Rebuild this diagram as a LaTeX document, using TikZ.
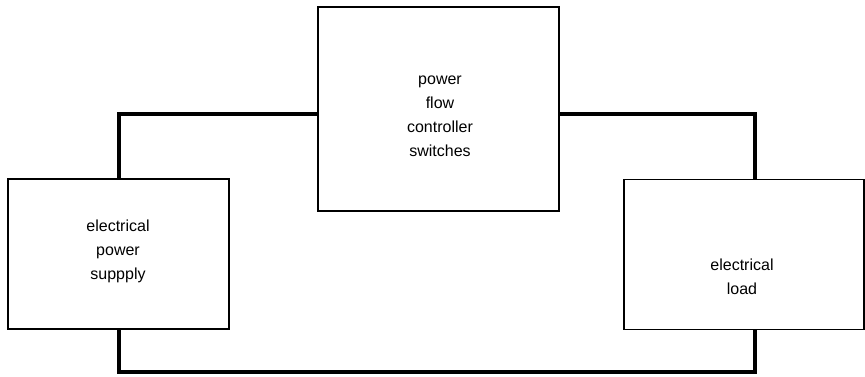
\documentclass[tikz,border=0pt]{standalone}
\usepackage{fontspec}
\setmainfont{Liberation Sans}
\begin{document}
\begin{tikzpicture}[x=1pt,y=-1pt,
  box/.style={draw=black, line width=1.3pt, fill=white, rectangle, inner sep=0pt},
  conn/.style={draw=black, line width=4.5pt, line join=miter},
  lbl/.style={align=center, font=\fontsize{16}{24}\selectfont, inner sep=0pt}]
\useasboundingbox (0,0) rectangle (865,376);
% coordinates of connector corners
\coordinate (a) at (119,114);
\coordinate (b) at (755,114);
\coordinate (c) at (119,372);
\coordinate (d) at (755,372);
% boxes (positions only)
\path (8,179) coordinate (psunw) (229,329) coordinate (psuse);
\node[box, minimum width=221pt, minimum height=150pt] (psu) at (118.5,254) {};
\node[box, minimum width=241pt, minimum height=204pt] (ctrl) at (438.5,109) {};
\node[box, minimum width=240pt, minimum height=150pt] (load) at (744,254.5) {};
% connectors
\draw[conn] (a |- psu.north) -- (a) -- (ctrl.west |- a);
\draw[conn] (ctrl.east |- b) -- (b) -- (b |- load.north);
\draw[conn] (c |- psu.south) -- (c) -- (d) -- (d |- load.south);
% redraw boxes on top
\node[box, minimum width=221pt, minimum height=150pt, fill=none] at (psu) {};
\node[box, minimum width=241pt, minimum height=204pt, fill=none] at (ctrl) {};
\node[box, minimum width=240pt, minimum height=150pt, fill=none] at (load) {};
% labels
\node[lbl] (psut) at (118,251) {electrical\\power\\suppply};
\node[lbl] (ctrlt) at (440,116) {power\\flow\\controller\\switches};
\node[lbl] (loadt) at (742,277) {electrical\\load};
\end{tikzpicture}
\end{document}
